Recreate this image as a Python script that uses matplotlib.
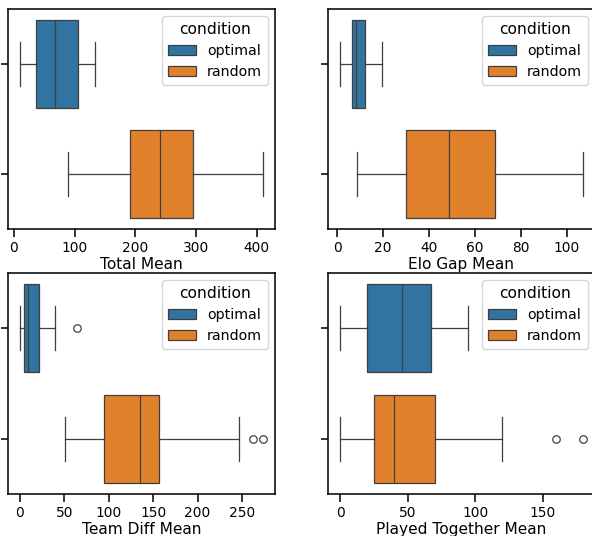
import matplotlib
matplotlib.use('Agg')
import matplotlib.pyplot as plt
from matplotlib.patches import Patch
from matplotlib.ticker import MultipleLocator

# 输入数据 (读图估计的箱线图统计量)
conditions = ['optimal', 'random']
colors = ['#3274a1', '#e1812c']
line_gray = '#3f3f3f'

panels = ['Total Mean', 'Elo Gap Mean', 'Team Diff Mean', 'Played Together Mean']
tick_steps = [100, 20, 50, 50]

# 每个面板: [optimal, random], 每个为 (whislo, q1, med, q3, whishi)
whislo = [[10.5, 89.7], [1.3, 8.6], [0.4, 50.5], [0.0, 0.0]]
q1 = [[35.8, 190.9], [6.3, 30.1], [5.3, 94.7], [20.1, 25.0]]
med = [[67.2, 241.0], [8.4, 48.7], [8.7, 134.9], [45.5, 39.9]]
q3 = [[105.6, 295.4], [12.1, 68.5], [21.9, 156.1], [67.5, 70.0]]
whishi = [[133.0, 409.8], [19.7, 106.9], [40.0, 246.3], [94.9, 120.0]]
fliers = [[[], []], [[], []], [[64.5], [262.8, 273.4]], [[], [160.0, 179.8]]]

# 布局
fig = plt.figure(figsize=(5.92, 5.36), dpi=100)
positions = [
    [8 / 592, 1 - 229 / 536, 267 / 592, 220 / 536],
    [328 / 592, 1 - 229 / 536, 267 / 592, 220 / 536],
    [8 / 592, 1 - 494 / 536, 267 / 592, 221 / 536],
    [328 / 592, 1 - 494 / 536, 267 / 592, 221 / 536],
]

for i, name in enumerate(panels):
    ax = fig.add_axes(positions[i])
    stats = []
    for j, cond in enumerate(conditions):
        stats.append(dict(whislo=whislo[i][j], q1=q1[i][j], med=med[i][j],
                          q3=q3[i][j], whishi=whishi[i][j], fliers=fliers[i][j],
                          label=cond))
    bp = ax.bxp(stats, positions=[0, 1], widths=0.8, orientation='horizontal',
                patch_artist=True, showfliers=True,
                boxprops=dict(edgecolor=line_gray, linewidth=0.9),
                whiskerprops=dict(color=line_gray, linewidth=0.9),
                capprops=dict(color=line_gray, linewidth=0.9),
                medianprops=dict(color=line_gray, linewidth=0.9),
                flierprops=dict(marker='o', markerfacecolor='none',
                                markeredgecolor=line_gray, markersize=5.4,
                                markeredgewidth=0.9))
    for box, c in zip(bp['boxes'], colors):
        box.set_facecolor(c)

    ax.set_ylim(1.5, -0.5)
    ax.set_yticks([0, 1])
    ax.set_yticklabels([])
    ax.xaxis.set_major_locator(MultipleLocator(tick_steps[i]))
    ax.set_xlabel(name, fontsize=11.1, labelpad=2)
    ax.tick_params(axis='both', length=5.4, width=1.12, labelsize=9.9, pad=3)
    for sp in ax.spines.values():
        sp.set_linewidth(1.12)

    handles = [Patch(facecolor=c, edgecolor=line_gray, linewidth=0.9, label=cond)
               for c, cond in zip(colors, conditions)]
    ax.legend(handles=handles, title='condition', loc='upper right',
              fontsize=10.2, title_fontsize=11.2)

plt.savefig('out.png', dpi=100)
